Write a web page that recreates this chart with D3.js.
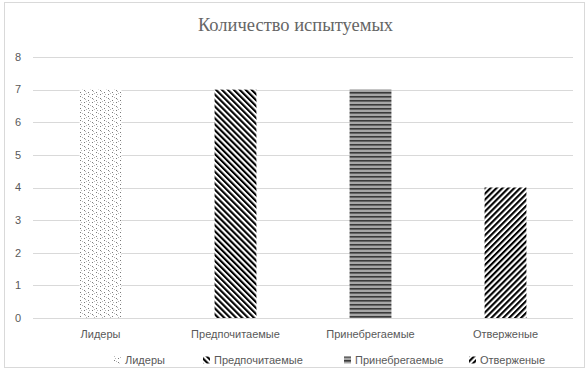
<!DOCTYPE html>
<html><head><meta charset="utf-8">
<script src="https://cdn.jsdelivr.net/npm/d3@7"></script>
<style>body{margin:0;background:#fff}svg{display:block}</style>
</head><body><svg id="c" width="588" height="371"></svg>
<script>
const categories = ["Лидеры", "Предпочитаемые", "Принебрегаемые", "Отверженые"];
const values = [7, 7, 7, 4];
const yTicks = [0, 1, 2, 3, 4, 5, 6, 7, 8];
const title = "Количество испытуемых";
const patternIds = ["pDots", "pDown", "pHoriz", "pUp"];

const svg = d3.select("#c");
const W = 588, H = 371;
const m = {left: 33, right: 15, top: 57, bottom: 53};
const font = "'Liberation Sans', Arial, sans-serif";

// background + border
svg.append("rect").attr("x", 4.5).attr("y", 2.5).attr("width", 580).attr("height", 365)
  .attr("fill", "#fff").attr("stroke", "#d9d9d9").attr("stroke-width", 1);

const defs = svg.append("defs");
// dotted
const pd = defs.append("pattern").attr("id", "pDots").attr("patternUnits", "userSpaceOnUse")
  .attr("width", 8).attr("height", 8);
pd.append("rect").attr("width", 8).attr("height", 8).attr("fill", "#fff");
[[0,0],[4,2],[0,4],[4,6],[2,1],[6,5],[1,6],[5,3]].forEach(([x,y],i)=>{
  pd.append("rect").attr("x", x).attr("y", y).attr("width", 1).attr("height", 1)
    .attr("fill", i < 4 ? "#7a7a7a" : "#b8b8b8");
});
function diag(id, angle) {
  const p = defs.append("pattern").attr("id", id).attr("patternUnits", "userSpaceOnUse")
    .attr("width", 4.2).attr("height", 4.2).attr("patternTransform", `rotate(${angle})`);
  p.append("rect").attr("width", 4.2).attr("height", 4.2).attr("fill", "#fff");
  p.append("rect").attr("x", 0).attr("y", 0).attr("width", 2.1).attr("height", 4.2).attr("fill", "#000");
}
diag("pDown", -45);
diag("pUp", 45);
// horizontal
const ph = defs.append("pattern").attr("id", "pHoriz").attr("patternUnits", "userSpaceOnUse")
  .attr("width", 4).attr("height", 4);
ph.append("rect").attr("width", 4).attr("height", 4).attr("fill", "#a6a6a6");
ph.append("rect").attr("y", 0).attr("width", 4).attr("height", 1.6).attr("fill", "#3a3a3a");

const x = d3.scaleBand().domain(categories).range([m.left, W - m.right]).paddingInner(0.69).paddingOuter(0.345);
const y = d3.scaleLinear().domain([0, 8]).range([H - m.bottom, m.top]);

// gridlines
svg.append("g").selectAll("line").data(yTicks).join("line")
  .attr("x1", m.left).attr("x2", W - m.right)
  .attr("y1", d => Math.round(y(d)) + 0.5).attr("y2", d => Math.round(y(d)) + 0.5)
  .attr("stroke", "#d9d9d9").attr("stroke-width", 1);

// y labels
svg.append("g").selectAll("text").data(yTicks).join("text")
  .attr("x", 21).attr("y", d => y(d)).attr("dy", "0.35em").attr("text-anchor", "end")
  .attr("font-family", font).attr("font-size", 11).attr("fill", "#595959").text(d => d);

// bars
svg.append("g").selectAll("rect").data(values).join("rect")
  .attr("x", (d, i) => x(categories[i])).attr("width", x.bandwidth())
  .attr("y", d => y(d)).attr("height", d => y(0) - y(d))
  .attr("fill", (d, i) => `url(#${patternIds[i]})`);

// category labels
svg.append("g").selectAll("text").data(categories).join("text")
  .attr("x", d => x(d) + x.bandwidth() / 2).attr("y", 334).attr("dy", "0.35em")
  .attr("text-anchor", "middle").attr("font-family", font).attr("font-size", 11)
  .attr("fill", "#595959").text(d => d);

// title
svg.append("text").attr("x", 295.5).attr("y", 31).attr("text-anchor", "middle")
  .attr("font-family", "'Liberation Serif', 'Times New Roman', serif").attr("font-size", 18.5)
  .attr("fill", "#666").text(title);

// legend
const legendX = [114, 203, 344, 469];
const lg = svg.append("g").selectAll("g").data(categories).join("g")
  .attr("transform", (d, i) => `translate(${legendX[i]},360)`);
lg.append("rect").attr("x", 0).attr("y", -3.5).attr("width", 7).attr("height", 7)
  .attr("fill", (d, i) => `url(#${patternIds[i]})`);
lg.append("text").attr("x", 11).attr("y", 0).attr("dy", "0.35em")
  .attr("font-family", font).attr("font-size", 11).attr("fill", "#595959").text(d => d);
</script></body></html>
